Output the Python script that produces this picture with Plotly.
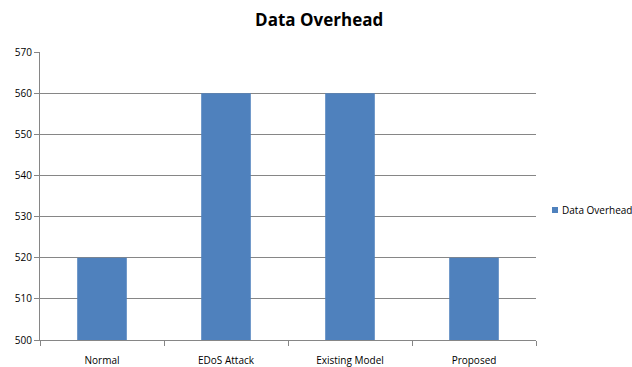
import plotly.graph_objects as go

categories = ["Normal", "EDoS Attack", "Existing Model", "Proposed"]
overhead = [520, 560, 560, 520]
y_ticks = [500, 510, 520, 530, 540, 550, 560, 570]
series_name = "Data Overhead"
bar_color = "#4F81BD"

# plot area in pixels: left 40, right 536, top 52, bottom 340
PLOT_L, PLOT_R, PLOT_T, PLOT_B = 40, 536, 52, 340


def px_x(px):
    return (px - PLOT_L) / (PLOT_R - PLOT_L)


def px_y(py):
    return (PLOT_B - py) / (PLOT_B - PLOT_T)


fig = go.Figure()
fig.add_trace(go.Bar(
    x=categories,
    y=overhead,
    name=series_name,
    marker=dict(color=bar_color, line=dict(width=0)),
    showlegend=False,
))

# compact legend: small square key plus label to the right of the plot
fig.add_shape(
    type="rect", xref="paper", yref="paper",
    x0=px_x(552), x1=px_x(558), y0=px_y(213), y1=px_y(207),
    fillcolor=bar_color, line=dict(width=0),
)
fig.add_annotation(
    text=series_name, xref="paper", yref="paper",
    x=px_x(560), y=px_y(210), xanchor="left", yanchor="middle",
    showarrow=False, font=dict(size=10, color="#000000"),
)

fig.update_layout(
    width=632,
    height=367,
    margin=dict(l=PLOT_L, r=632 - PLOT_R, t=PLOT_T, b=367 - PLOT_B, autoexpand=False),
    paper_bgcolor="white",
    plot_bgcolor="white",
    bargap=0.6,
    showlegend=False,
    font=dict(family="Open Sans", size=10, color="#000000"),
    title=dict(
        text="<b>Data Overhead</b>",
        x=0.505,
        xanchor="center",
        y=0.945,
        yanchor="middle",
        font=dict(family="Open Sans", size=17, color="#000000"),
    ),
    xaxis=dict(
        type="category",
        showgrid=False,
        showline=True,
        linecolor="#868686",
        linewidth=1,
        ticks="outside",
        tickson="boundaries",
        ticklen=5,
        tickcolor="#868686",
        ticklabelstandoff=11,
        tickfont=dict(size=10),
        automargin=False,
    ),
    yaxis=dict(
        range=[500, 570],
        tickvals=y_ticks,
        showgrid=True,
        gridcolor="#868686",
        gridwidth=1,
        showline=True,
        linecolor="#868686",
        linewidth=1,
        ticks="outside",
        ticklen=5,
        tickcolor="#868686",
        tickfont=dict(size=10),
        zeroline=False,
        automargin=False,
    ),
)

fig.write_html("out.html")
